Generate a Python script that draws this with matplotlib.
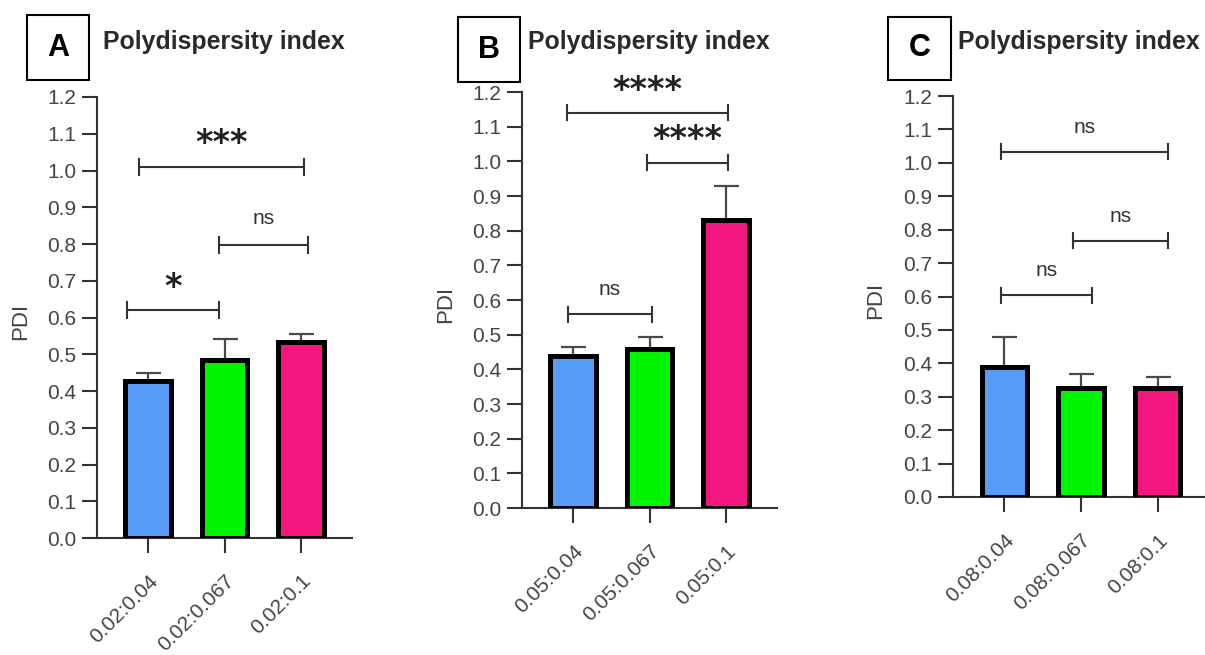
import numpy as np
import matplotlib
matplotlib.use("Agg")
import matplotlib.pyplot as plt

plt.rcParams['font.family'] = ['Liberation Sans', 'DejaVu Sans']

# data
labels_a = ['0.02:0.04', '0.02:0.067', '0.02:0.1']
labels_b = ['0.05:0.04', '0.05:0.067', '0.05:0.1']
labels_c = ['0.08:0.04', '0.08:0.067', '0.08:0.1']

pdi_a = [0.427, 0.485, 0.534]
pdi_b = [0.439, 0.458, 0.831]
pdi_c = [0.389, 0.327, 0.327]

# upper end of error bar
err_a = [0.449, 0.541, 0.555]
err_b = [0.465, 0.494, 0.928]
err_c = [0.479, 0.367, 0.359]

# significance brackets: (x1, x2, y, text)
sig_a = [(-0.27, 0.93, 0.620, '*'), (-0.12, 2.04, 1.010, '***'), (0.93, 2.09, 0.798, 'ns')]
sig_b = [(-0.06, 1.03, 0.559, 'ns'), (-0.08, 2.03, 1.140, '****'), (0.97, 2.03, 0.996, '****')]
sig_c = [(-0.04, 2.13, 1.033, 'ns'), (0.90, 2.13, 0.767, 'ns'), (-0.04, 1.14, 0.604, 'ns')]

colors = ['#559bf7', '#00f500', '#f4157f']
W, H = 1205, 655

fig = plt.figure(figsize=(W / 100, H / 100), dpi=100)


def panel(rect, letter, box, title_x, labels, vals, errs, sigs):
    l, r, b, t = rect
    ax = fig.add_axes([l / W, 1 - b / H, (r - l) / W, (b - t) / H])
    x = np.arange(len(vals))
    yerr = [np.zeros(len(vals)), np.array(errs) - np.array(vals)]
    ax.errorbar(x, vals, yerr=yerr, fmt='none', ecolor='#4a4a4a', elinewidth=1.6,
                capsize=9, capthick=1.6, zorder=2)
    ax.bar(x, vals, width=0.59, color=colors, edgecolor='black', linewidth=3.6, zorder=3)

    ax.set_xlim(-0.667, 2.667)
    ax.set_ylim(0, 1.2)
    ax.set_yticks(np.arange(0, 1.21, 0.1))
    ax.set_yticklabels(['%.1f' % v for v in np.arange(0, 1.21, 0.1)])
    ax.set_xticks(x)
    ax.set_xticklabels(labels, rotation=45, ha='right', va='top', rotation_mode='anchor')
    for s in ['top', 'right']:
        ax.spines[s].set_visible(False)
    for s in ['left', 'bottom']:
        ax.spines[s].set_linewidth(1.5)
        ax.spines[s].set_color('#333333')
    ax.tick_params(axis='both', length=11, width=1.5, color='#333333',
                   labelsize=15, labelcolor='#444444', pad=4)
    ax.tick_params(axis='x', pad=13)
    ax.set_ylabel('PDI', fontsize=16, color='#444444')
    ax.yaxis.set_label_coords(-0.26, 0.49)

    cap = 0.022
    for x1, x2, y, txt in sigs:
        ax.plot([x1, x2], [y, y], color='#333333', lw=1.5, clip_on=False)
        ax.plot([x1, x1], [y - cap, y + cap], color='#333333', lw=1.5, clip_on=False)
        ax.plot([x2, x2], [y - cap, y + cap], color='#333333', lw=1.5, clip_on=False)
        if txt == 'ns':
            ax.text((x1 + x2) / 2, y + 0.045, txt, ha='center', va='bottom',
                    fontsize=15, color='#333333')
        else:
            ax.text((x1 + x2) / 2, y + 0.018, txt, ha='center', va='bottom',
                    fontsize=24, fontweight='bold', color='#222222',
                    family='DejaVu Sans', clip_on=False)

    # letter box and title
    bx0, by0, bx1, by1 = box
    fig.patches.append(plt.Rectangle((bx0 / W, 1 - by1 / H), (bx1 - bx0) / W, (by1 - by0) / H,
                                     transform=fig.transFigure, fill=False,
                                     edgecolor='black', linewidth=1.5))
    fig.text((bx0 + bx1) / 2 / W, 1 - (by0 + by1) / 2 / H, letter, ha='center', va='center',
             fontsize=22, fontweight='bold')
    fig.text(title_x / W, 1 - 42 / H, 'Polydispersity index', ha='left', va='center',
             fontsize=17.9, fontweight='bold', color='#2a2a2a')
    return ax


panel((97, 352, 538, 97), 'A', (27, 15, 89, 80), 103, labels_a, pdi_a, err_a, sig_a)
panel((522, 777, 508, 92), 'B', (458, 17, 520, 82), 528, labels_b, pdi_b, err_b, sig_b)
panel((953, 1209, 497, 96), 'C', (888, 17, 951, 80), 958, labels_c, pdi_c, err_c, sig_c)

fig.savefig('out.png', dpi=100)
